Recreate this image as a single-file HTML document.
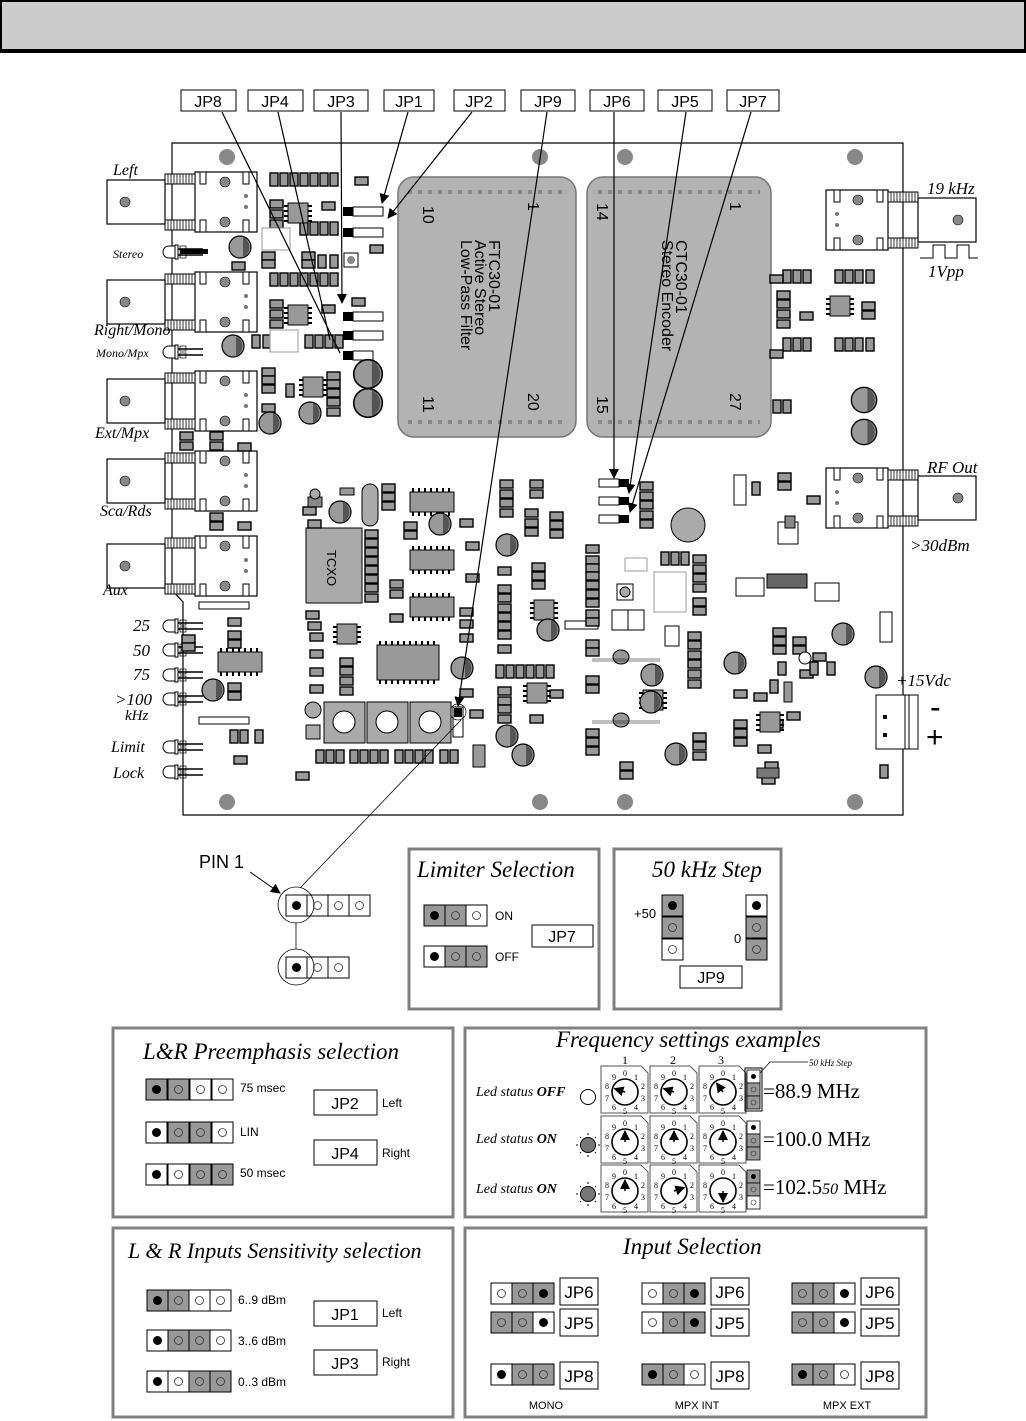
<!DOCTYPE html>
<html><head><meta charset="utf-8"><style>
html,body{margin:0;padding:0;background:#fff}
svg{display:block}
.s{font-family:"Liberation Sans",sans-serif}
.i{font-family:"Liberation Serif",serif;font-style:italic}
.r{font-family:"Liberation Serif",serif}
</style></head><body>
<svg width="1026" height="1421" viewBox="0 0 1026 1421" xmlns="http://www.w3.org/2000/svg">
<defs>
<g id="gO"><rect width="21" height="21" fill="#999" stroke="#000" stroke-width="1"/><circle cx="10.5" cy="10.5" r="4" fill="none" stroke="#333" stroke-width="0.8"/></g>
<g id="wO"><rect width="21" height="21" fill="#fff" stroke="#000" stroke-width="1"/><circle cx="10.5" cy="10.5" r="4" fill="none" stroke="#333" stroke-width="0.8"/></g>
<g id="gF"><rect width="21" height="21" fill="#999" stroke="#000" stroke-width="1"/><circle cx="10.5" cy="10.5" r="4.5" fill="#000"/></g>
<g id="wF"><rect width="21" height="21" fill="#fff" stroke="#000" stroke-width="1"/><circle cx="10.5" cy="10.5" r="4.5" fill="#000"/></g>
<g id="sgO"><rect width="13" height="13" fill="#999" stroke="#000" stroke-width="0.8"/><circle cx="6.5" cy="6.5" r="2.5" fill="none" stroke="#333" stroke-width="0.6"/></g>
<g id="swO"><rect width="13" height="13" fill="#fff" stroke="#000" stroke-width="0.8"/><circle cx="6.5" cy="6.5" r="2.5" fill="none" stroke="#333" stroke-width="0.6"/></g>
<g id="swF"><rect width="13" height="13" fill="#fff" stroke="#000" stroke-width="0.8"/><circle cx="6.5" cy="6.5" r="2.5" fill="#000"/></g>
<g id="sgF"><rect width="13" height="13" fill="#999" stroke="#000" stroke-width="0.8"/><circle cx="6.5" cy="6.5" r="2.5" fill="#000"/></g>
<marker id="ar" markerWidth="10" markerHeight="10" refX="9" refY="5" orient="auto" markerUnits="userSpaceOnUse"><path d="M0,0 L10,5 L0,10 z" fill="#000"/></marker>
<g id="res"><rect width="13" height="8" fill="#999" stroke="#000" stroke-width="1.4"/></g>
<g id="resv"><rect width="8" height="13" fill="#999" stroke="#000" stroke-width="1.4"/></g>
<g id="cap"><circle r="11" fill="#999" stroke="#000" stroke-width="1.2"/><path d="M3,-10 A11,11 0 0 1 3,10 Z" fill="#555"/></g>
<g id="ic8"><rect width="20" height="20" fill="#999" stroke="#000"/><g stroke="#000" stroke-width="2"><path d="M-4,3h4M-4,8h4M-4,13h4M-4,18h4M20,3h4M20,8h4M20,13h4M20,18h4"/></g></g>
<g id="ic14h"><rect width="44" height="20" fill="#999" stroke="#000"/><g stroke="#000" stroke-width="2"><path d="M3,-4v4M9,-4v4M15,-4v4M21,-4v4M27,-4v4M33,-4v4M39,-4v4M3,20v4M9,20v4M15,20v4M21,20v4M27,20v4M33,20v4M39,20v4"/></g></g>
<g id="bnc"><rect x="0" y="-30" width="62" height="60" fill="#fff" stroke="#000" stroke-width="1.2"/><rect x="5" y="-30" width="6" height="12" fill="#fff" stroke="#000"/><rect x="48" y="-30" width="6" height="12" fill="#fff" stroke="#000"/><rect x="5" y="18" width="6" height="12" fill="#fff" stroke="#000"/><rect x="48" y="18" width="6" height="12" fill="#fff" stroke="#000"/><circle cx="30" cy="-20" r="5" fill="#888" stroke="#000" stroke-width=".6"/><circle cx="30" cy="20" r="5" fill="#888" stroke="#000" stroke-width=".6"/><circle cx="51" cy="-6" r="2" fill="#777"/><circle cx="51" cy="5" r="2" fill="#777"/>
<rect x="-30" y="-28" width="30" height="10" fill="#fff" stroke="#000"/><rect x="-30" y="18" width="30" height="10" fill="#fff" stroke="#000"/><path d="M-27,-28v10M-24,-28v10M-21,-28v10M-18,-28v10M-15,-28v10M-12,-28v10M-9,-28v10M-6,-28v10M-3,-28v10M-27,18v10M-24,18v10M-21,18v10M-18,18v10M-15,18v10M-12,18v10M-9,18v10M-6,18v10M-3,18v10" stroke="#000" stroke-width=".8"/>
<rect x="-88" y="-22" width="58" height="44" fill="#fff" stroke="#000" stroke-width="1.2"/><circle cx="-70" cy="0" r="5" fill="#888" stroke="#000" stroke-width=".6"/></g>
<g id="led"><path d="M10,-6 H4 A6,6 0 0 0 4,6 H10 Z" fill="#fff" stroke="#000"/><rect x="10" y="-7" width="3" height="14" fill="#fff" stroke="#000"/><path d="M13,-3H38M13,3H38" stroke="#000" stroke-width="1.5"/><rect x="15" y="-6" width="6" height="5" fill="none" stroke="#000" stroke-width=".7"/><rect x="15" y="1" width="6" height="5" fill="none" stroke="#000" stroke-width=".7"/></g>
<g id="dial"><path d="M0,0H40L47,7V47H0Z" fill="#fff" stroke="#555" stroke-width="1"/><circle cx="24" cy="26" r="13" fill="#fff" stroke="#000" stroke-width="1.6"/>
<text class="r" font-size="8" text-anchor="middle"><tspan x="24" y="10">0</tspan><tspan x="35" y="14">1</tspan><tspan x="42" y="23">2</tspan><tspan x="42" y="35">3</tspan><tspan x="35" y="44">4</tspan><tspan x="24" y="48">5</tspan><tspan x="13" y="44">6</tspan><tspan x="6" y="35">7</tspan><tspan x="6" y="23">8</tspan><tspan x="13" y="14">9</tspan></text></g>
</defs>

<!-- header -->
<rect x="1" y="1" width="1024" height="49" fill="#cccccc" stroke="#000" stroke-width="2"/>
<rect x="0" y="49" width="1026" height="4" fill="#000"/>

<!-- board outline -->
<path d="M172,143 H903 V815 H183 V602 L172,590 Z" fill="#fff" stroke="#000" stroke-width="1.2"/>
<g fill="#888"><circle cx="227" cy="157" r="8"/><circle cx="540" cy="157" r="8"/><circle cx="625" cy="157" r="8"/><circle cx="855" cy="157" r="8"/><circle cx="227" cy="802" r="8"/><circle cx="540" cy="802" r="8"/><circle cx="625" cy="802" r="8"/><circle cx="855" cy="802" r="8"/></g>

<!-- modules -->
<rect x="398" y="177" width="178" height="260" rx="16" fill="#b3b3b3" stroke="#777" stroke-width="1.5"/>
<rect x="587" y="177" width="184" height="260" rx="16" fill="#b3b3b3" stroke="#777" stroke-width="1.5"/>
<path d="M408,192H565M408,422H565M598,192H760M598,422H760" stroke="#888" stroke-width="4" stroke-dasharray="4,6"/>
<g class="s" font-size="16">
<text transform="translate(423,206) rotate(90)">10</text>
<text transform="translate(528,202) rotate(90)">1</text>
<text transform="translate(423,396) rotate(90)">11</text>
<text transform="translate(528,393) rotate(90)">20</text>
<text transform="translate(597,203) rotate(90)">14</text>
<text transform="translate(730,202) rotate(90)">1</text>
<text transform="translate(597,396) rotate(90)">15</text>
<text transform="translate(730,393) rotate(90)">27</text>
<text transform="translate(489,240) rotate(90)">FTC30-01</text>
<text transform="translate(475,240) rotate(90)">Active Stereo</text>
<text transform="translate(461,240) rotate(90)">Low-Pass Filter</text>
<text transform="translate(676,240) rotate(90)">CTC30-01</text>
<text transform="translate(662,240) rotate(90)">Stereo Encoder</text>
</g>

<!-- left connectors -->
<use href="#bnc" x="195" y="202"/>
<use href="#bnc" x="195" y="302"/>
<use href="#bnc" x="195" y="401"/>
<use href="#bnc" x="195" y="481"/>
<use href="#bnc" x="195" y="566"/>
<g class="i" font-size="16">
<text x="113" y="175">Left</text>
<text x="113" y="258" font-size="12">Stereo</text>
<text x="94" y="335">Right/Mono</text>
<text x="96" y="357" font-size="12">Mono/Mpx</text>
<text x="95" y="438">Ext/Mpx</text>
<text x="100" y="516">Sca/Rds</text>
<text x="103" y="595">Aux</text>
<text x="133" y="631" font-size="17">25</text>
<text x="133" y="656" font-size="17">50</text>
<text x="133" y="680" font-size="17">75</text>
<text x="115" y="705" font-size="17">&gt;100</text>
<text x="125" y="720" font-size="15">kHz</text>
<text x="111" y="752" font-size="16">Limit</text>
<text x="113" y="778" font-size="16">Lock</text>
</g>
<use href="#led" x="165" y="252"/>
<use href="#led" x="165" y="352"/>
<use href="#led" x="165" y="626"/>
<use href="#led" x="165" y="650"/>
<use href="#led" x="165" y="675"/>
<use href="#led" x="165" y="699"/>
<use href="#led" x="165" y="747"/>
<use href="#led" x="165" y="772"/>
<rect x="180" y="249" width="28" height="5" fill="#000"/>

<!-- right connectors -->
<use href="#bnc" transform="translate(888,220) scale(-1,1)"/>
<use href="#bnc" transform="translate(888,498) scale(-1,1)"/>
<g class="i" font-size="17">
<text x="927" y="194">19 kHz</text>
<text x="928" y="277">1Vpp</text>
<text x="927" y="473">RF Out</text>
<text x="910" y="551">&gt;30dBm</text>
<text x="896" y="686">+15Vdc</text>
</g>
<path d="M920,258H933V245H945V258H957V245H969V258H978" fill="none" stroke="#000" stroke-width="1"/>
<rect x="876" y="695" width="42" height="54" fill="#fff" stroke="#000"/><rect x="905" y="695" width="4" height="54" fill="#fff" stroke="#000"/>
<rect x="883" y="715" width="4" height="4"/><rect x="883" y="733" width="4" height="4"/>
<text class="s" x="930" y="718" font-size="32">-</text>
<text class="s" x="926" y="747" font-size="30">+</text>

<!-- jumper headers on PCB -->
<g>
<rect x="343" y="207" width="10" height="9" fill="#000"/><rect x="353" y="207" width="30" height="9" fill="#fff" stroke="#000"/>
<rect x="343" y="228" width="10" height="9" fill="#000"/><rect x="353" y="228" width="30" height="9" fill="#fff" stroke="#000"/>
<rect x="343" y="312" width="10" height="9" fill="#000"/><rect x="353" y="312" width="30" height="9" fill="#fff" stroke="#000"/>
<rect x="343" y="331" width="10" height="9" fill="#000"/><rect x="353" y="331" width="30" height="9" fill="#fff" stroke="#000"/>
<rect x="343" y="351" width="10" height="9" fill="#000"/><rect x="353" y="351" width="20" height="9" fill="#fff" stroke="#000"/>
<rect x="599" y="479" width="20" height="8" fill="#fff" stroke="#000"/><rect x="619" y="479" width="10" height="8" fill="#000"/>
<rect x="599" y="497" width="20" height="8" fill="#fff" stroke="#000"/><rect x="619" y="497" width="10" height="8" fill="#000"/>
<rect x="599" y="515" width="20" height="8" fill="#fff" stroke="#000"/><rect x="619" y="515" width="10" height="8" fill="#000"/>
<rect x="453" y="707" width="10" height="30" fill="#fff" stroke="#000"/><rect x="454" y="708" width="8" height="9" fill="#000"/>
<circle cx="458" cy="712" r="8" fill="none" stroke="#000" stroke-width=".7"/>
</g>
<g fill="#fff" stroke="#000" stroke-width="1">
<rect x="199" y="602" width="50" height="7"/><rect x="199" y="717" width="50" height="7"/>
<rect x="565" y="621" width="33" height="8"/>
</g>

<!-- components -->
<g>
<use href="#resv" x="270" y="173"/><use href="#resv" x="280" y="173"/><use href="#resv" x="290" y="173"/><use href="#resv" x="300" y="173"/><use href="#resv" x="310" y="173"/><use href="#resv" x="320" y="173"/><use href="#resv" x="330" y="173"/>
<use href="#resv" x="270" y="273"/><use href="#resv" x="280" y="273"/><use href="#resv" x="290" y="273"/><use href="#resv" x="300" y="273"/><use href="#resv" x="310" y="273"/><use href="#resv" x="320" y="273"/><use href="#resv" x="330" y="273"/>
<use href="#resv" x="300" y="222"/><use href="#resv" x="310" y="222"/><use href="#resv" x="320" y="222"/><use href="#resv" x="330" y="222"/>
<use href="#resv" x="318" y="255"/><use href="#resv" x="330" y="255"/>
<use href="#resv" x="252" y="335"/><use href="#resv" x="263" y="335"/><use href="#resv" x="305" y="335"/><use href="#resv" x="315" y="335"/><use href="#resv" x="325" y="335"/><use href="#resv" x="335" y="335"/>
<use href="#res" x="270" y="200"/><use href="#res" x="270" y="210"/><use href="#res" x="270" y="220"/><use href="#res" x="322" y="202"/>
<use href="#res" x="270" y="300"/><use href="#res" x="270" y="310"/><use href="#res" x="270" y="320"/><use href="#res" x="322" y="305"/>
<use href="#res" x="262" y="252"/><use href="#res" x="262" y="260"/><use href="#res" x="302" y="252"/><use href="#res" x="302" y="260"/><use href="#res" x="232" y="262"/>
<use href="#res" x="355" y="177"/><use href="#res" x="370" y="245"/><use href="#res" x="352" y="298"/>
<use href="#res" x="262" y="368"/><use href="#res" x="262" y="376"/><use href="#res" x="262" y="385"/><use href="#res" x="262" y="404"/>
<use href="#res" x="327" y="372"/><use href="#res" x="327" y="380"/><use href="#res" x="327" y="389"/><use href="#res" x="327" y="398"/><use href="#res" x="327" y="408"/>
<use href="#resv" x="286" y="384"/>
<use href="#res" x="180" y="432"/><use href="#res" x="180" y="442"/><use href="#res" x="210" y="432"/><use href="#res" x="210" y="442"/><use href="#res" x="238" y="443"/>
<use href="#res" x="210" y="513"/><use href="#res" x="210" y="522"/><use href="#res" x="238" y="522"/>
<use href="#ic8" x="288" y="203"/><use href="#ic8" x="288" y="305"/><use href="#ic8" x="303" y="377"/>
<rect x="262" y="228" width="28" height="22" fill="#fff" stroke="#999"/><rect x="270" y="330" width="28" height="22" fill="#fff" stroke="#999"/>
<use href="#cap" x="240" y="247"/><use href="#cap" x="233" y="346"/><use href="#cap" x="310" y="413"/><use href="#cap" x="270" y="423"/>
<use href="#cap" transform="translate(368,374) scale(1.3)"/><use href="#cap" transform="translate(368,403) scale(1.3)"/>
<rect x="344" y="253" width="14" height="14" fill="#fff" stroke="#000"/><circle cx="351" cy="260" r="4" fill="#888"/>

<rect x="308" y="497" width="14" height="10" fill="#888" stroke="#000"/><circle cx="315" cy="494" r="5" fill="#aaa" stroke="#000"/>
<rect x="340" y="488" width="14" height="7" fill="#999" stroke="#000"/>
<use href="#cap" x="340" y="512"/>
<rect x="362" y="484" width="16" height="42" rx="8" fill="#aaa" stroke="#000"/>
<rect x="306" y="528" width="56" height="75" fill="#aaa" stroke="#000"/>
<text class="s" transform="translate(327,550) rotate(90)" font-size="13">TCXO</text>
<g><use href="#res" x="303" y="507"/><use href="#res" x="308" y="520"/><use href="#res" x="306" y="611"/><use href="#res" x="308" y="622"/><use href="#res" x="365" y="530"/><use href="#res" x="365" y="539"/><use href="#res" x="365" y="548"/><use href="#res" x="365" y="557"/><use href="#res" x="365" y="566"/><use href="#res" x="365" y="575"/><use href="#res" x="365" y="584"/><use href="#res" x="365" y="594"/>
<use href="#res" x="382" y="484"/><use href="#res" x="382" y="493"/><use href="#res" x="382" y="502"/><use href="#res" x="404" y="522"/><use href="#res" x="404" y="531"/>
<use href="#res" x="390" y="580"/><use href="#res" x="390" y="590"/><use href="#res" x="390" y="614"/>
<use href="#res" x="310" y="633"/><use href="#res" x="310" y="650"/><use href="#res" x="310" y="668"/><use href="#res" x="310" y="685"/>
<use href="#res" x="340" y="658"/><use href="#res" x="340" y="667"/><use href="#res" x="340" y="677"/><use href="#res" x="340" y="687"/>
<use href="#res" x="228" y="618"/><use href="#res" x="228" y="631"/><use href="#res" x="228" y="640"/><use href="#res" x="228" y="683"/><use href="#res" x="228" y="692"/>
<use href="#res" x="182" y="635"/><use href="#res" x="182" y="643"/><use href="#res" x="234" y="756"/><use href="#res" x="296" y="772"/>
<use href="#resv" x="230" y="730"/><use href="#resv" x="240" y="730"/><use href="#resv" x="255" y="730"/>
<use href="#res" x="460" y="608"/><use href="#res" x="460" y="620"/><use href="#res" x="460" y="634"/><use href="#res" x="460" y="689"/><use href="#res" x="470" y="710"/>
<use href="#res" x="466" y="542"/><use href="#res" x="466" y="574"/><use href="#res" x="460" y="519"/>
</g>
<use href="#ic14h" x="410" y="492"/><use href="#ic14h" x="410" y="550"/><use href="#ic14h" x="410" y="597"/><use href="#ic14h" x="218" y="652"/>
<use href="#ic8" x="337" y="624"/>
<rect x="377" y="645" width="62" height="35" fill="#999" stroke="#000"/><path d="M380,641v4M386,641v4M392,641v4M398,641v4M404,641v4M410,641v4M416,641v4M422,641v4M428,641v4M434,641v4M380,680v4M386,680v4M392,680v4M398,680v4M404,680v4M410,680v4M416,680v4M422,680v4M428,680v4M434,680v4" stroke="#000" stroke-width="2"/>
<use href="#cap" x="462" y="668"/><use href="#cap" x="213" y="690"/><use href="#cap" x="440" y="524"/>
<g fill="#aaa" stroke="#000"><rect x="324" y="702" width="41" height="41"/><rect x="367" y="702" width="41" height="41"/><rect x="410" y="702" width="41" height="41"/></g>
<g fill="#fff" stroke="#000"><circle cx="344" cy="722" r="11"/><circle cx="387" cy="722" r="11"/><circle cx="430" cy="722" r="11"/></g>
<circle cx="313" cy="710" r="8" fill="#aaa" stroke="#000"/><rect x="306" y="725" width="14" height="14" fill="#aaa" stroke="#000"/>
<g><use href="#resv" x="316" y="750"/><use href="#resv" x="326" y="750"/><use href="#resv" x="336" y="750"/><use href="#resv" x="350" y="750"/><use href="#resv" x="360" y="750"/><use href="#resv" x="370" y="750"/><use href="#resv" x="380" y="750"/><use href="#resv" x="395" y="750"/><use href="#resv" x="405" y="750"/><use href="#resv" x="415" y="750"/><use href="#resv" x="425" y="750"/><use href="#resv" x="440" y="750"/><use href="#resv" x="450" y="750"/></g>
<rect x="473" y="745" width="12" height="22" fill="#999" stroke="#000"/>

<g>
<use href="#res" x="500" y="480"/><use href="#res" x="500" y="490"/><use href="#res" x="500" y="499"/><use href="#res" x="500" y="509"/><use href="#res" x="530" y="480"/><use href="#res" x="530" y="490"/><use href="#res" x="525" y="509"/><use href="#res" x="525" y="519"/><use href="#res" x="525" y="528"/><use href="#res" x="550" y="512"/><use href="#res" x="550" y="521"/><use href="#res" x="550" y="530"/>
<use href="#res" x="498" y="567"/><use href="#res" x="532" y="563"/><use href="#res" x="532" y="572"/><use href="#res" x="532" y="581"/><use href="#res" x="498" y="585"/><use href="#res" x="498" y="594"/><use href="#res" x="498" y="604"/><use href="#res" x="498" y="613"/><use href="#res" x="498" y="622"/><use href="#res" x="498" y="631"/><use href="#res" x="498" y="645"/>
<use href="#resv" x="496" y="665"/><use href="#resv" x="506" y="665"/><use href="#resv" x="516" y="665"/><use href="#resv" x="526" y="665"/><use href="#resv" x="536" y="665"/><use href="#resv" x="546" y="665"/>
<use href="#res" x="498" y="687"/><use href="#res" x="498" y="697"/><use href="#res" x="498" y="705"/><use href="#res" x="498" y="715"/>
<use href="#res" x="530" y="715"/><use href="#res" x="550" y="690"/>
<use href="#res" x="586" y="545"/><use href="#res" x="586" y="556"/><use href="#res" x="586" y="564"/><use href="#res" x="586" y="572"/><use href="#res" x="586" y="581"/><use href="#res" x="586" y="590"/><use href="#res" x="586" y="599"/><use href="#res" x="586" y="610"/><use href="#res" x="586" y="618"/><use href="#res" x="586" y="640"/><use href="#res" x="586" y="648"/>
<use href="#res" x="586" y="676"/><use href="#res" x="586" y="685"/><use href="#res" x="586" y="729"/><use href="#res" x="586" y="738"/><use href="#res" x="586" y="747"/>
<use href="#res" x="620" y="762"/><use href="#res" x="620" y="771"/>
<use href="#res" x="640" y="482"/><use href="#res" x="640" y="492"/><use href="#res" x="640" y="501"/><use href="#res" x="640" y="511"/><use href="#res" x="640" y="520"/>
<use href="#res" x="693" y="555"/><use href="#res" x="693" y="565"/><use href="#res" x="693" y="574"/><use href="#res" x="693" y="584"/><use href="#res" x="693" y="598"/><use href="#res" x="693" y="607"/>
<use href="#res" x="688" y="632"/><use href="#res" x="688" y="641"/><use href="#res" x="688" y="651"/><use href="#res" x="688" y="660"/><use href="#res" x="688" y="670"/><use href="#res" x="688" y="680"/>
<use href="#res" x="693" y="733"/><use href="#res" x="693" y="742"/><use href="#res" x="693" y="752"/><use href="#res" x="734" y="690"/><use href="#res" x="734" y="720"/><use href="#res" x="734" y="729"/><use href="#res" x="734" y="738"/><use href="#res" x="770" y="720"/><use href="#res" x="765" y="762"/>
<use href="#resv" x="661" y="552"/><use href="#resv" x="671" y="552"/><use href="#resv" x="681" y="552"/>
</g>
<use href="#ic8" x="534" y="600"/><use href="#ic8" x="527" y="683"/><use href="#ic8" x="643" y="690"/>
<use href="#cap" x="507" y="545"/><use href="#cap" x="548" y="630"/><use href="#cap" x="652" y="675"/><use href="#cap" x="651" y="702"/><use href="#cap" x="676" y="754"/><use href="#cap" x="507" y="736"/><use href="#cap" x="523" y="755"/>
<circle cx="688" cy="525" r="17" fill="#aaa" stroke="#000"/>
<ellipse cx="621" cy="657" rx="8" ry="7" fill="#999" stroke="#000"/><ellipse cx="621" cy="720" rx="8" ry="7" fill="#999" stroke="#000"/>
<path d="M592,660H660M592,722H660" stroke="#000" stroke-width="4" stroke-opacity=".25"/>
<rect x="625" y="558" width="22" height="13" fill="#fff" stroke="#999"/><rect x="617" y="584" width="16" height="16" fill="#fff" stroke="#000"/><circle cx="625" cy="592" r="5" fill="#aaa" stroke="#000"/>
<rect x="654" y="572" width="32" height="40" fill="#fff" stroke="#999"/>
<rect x="612" y="610" width="16" height="20" fill="#fff" stroke="#000"/><rect x="628" y="610" width="16" height="20" fill="#fff" stroke="#000"/>
<rect x="665" y="626" width="14" height="20" fill="#fff" stroke="#000"/>

<g>
<use href="#resv" x="783" y="270"/><use href="#resv" x="793" y="270"/><use href="#resv" x="803" y="270"/><use href="#resv" x="835" y="270"/><use href="#resv" x="845" y="270"/><use href="#resv" x="855" y="270"/><use href="#resv" x="866" y="270"/>
<use href="#resv" x="783" y="338"/><use href="#resv" x="793" y="338"/><use href="#resv" x="803" y="338"/><use href="#resv" x="835" y="338"/><use href="#resv" x="845" y="338"/><use href="#resv" x="855" y="338"/><use href="#resv" x="866" y="338"/>
<use href="#res" x="770" y="275"/><use href="#res" x="770" y="350"/><use href="#res" x="777" y="291"/><use href="#res" x="777" y="300"/><use href="#res" x="777" y="310"/><use href="#res" x="777" y="320"/><use href="#res" x="800" y="312"/><use href="#res" x="862" y="302"/><use href="#res" x="862" y="311"/>
<use href="#resv" x="773" y="400"/><use href="#resv" x="783" y="400"/>
<use href="#res" x="778" y="473"/><use href="#res" x="778" y="482"/><use href="#res" x="807" y="496"/><use href="#resv" x="752" y="482"/>
<use href="#res" x="773" y="628"/><use href="#res" x="773" y="637"/><use href="#res" x="773" y="646"/><use href="#res" x="793" y="637"/><use href="#res" x="793" y="646"/><use href="#res" x="813" y="653"/><use href="#res" x="800" y="670"/>
<use href="#resv" x="827" y="662"/><use href="#resv" x="810" y="662"/><use href="#resv" x="778" y="662"/><use href="#resv" x="770" y="680"/>
<use href="#res" x="754" y="693"/><use href="#res" x="758" y="745"/><use href="#res" x="787" y="712"/>
<use href="#res" x="762" y="776"/><use href="#resv" x="880" y="765"/>
</g>
<use href="#ic8" x="830" y="296"/><use href="#ic8" x="760" y="712"/>
<use href="#cap" transform="translate(864,400) scale(1.15)"/><use href="#cap" transform="translate(864,432) scale(1.15)"/>
<use href="#cap" x="876" y="677"/><use href="#cap" x="843" y="634"/><use href="#cap" x="735" y="663"/>
<rect x="734" y="475" width="12" height="30" fill="#fff" stroke="#000"/><rect x="880" y="612" width="12" height="30" fill="#fff" stroke="#000"/>
<rect x="778" y="522" width="20" height="22" fill="#fff" stroke="#000"/><rect x="785" y="516" width="10" height="12" fill="#888" stroke="#000"/>
<rect x="736" y="578" width="28" height="18" fill="#fff" stroke="#000"/><rect x="815" y="583" width="24" height="18" fill="#fff" stroke="#000"/>
<rect x="767" y="574" width="40" height="14" fill="#666" stroke="#000"/>
<rect x="784" y="682" width="8" height="20" fill="#999" stroke="#000"/>
<rect x="757" y="768" width="22" height="10" fill="#777" stroke="#000"/>
<circle cx="805" cy="658" r="6" fill="#fff" stroke="#000"/>

<!-- pointer lines -->
<g stroke="#000" stroke-width="1.2" fill="none">
<path d="M222,112L340,353" /><path d="M278,112L330,340"/>
<path d="M341,112L342,303" marker-end="url(#ar)"/>
<path d="M408,112L382,203" marker-end="url(#ar)"/>
<path d="M472,112L388,218" marker-end="url(#ar)"/>
<path d="M547,112L458,706" marker-end="url(#ar)"/>
<path d="M614,112L614,478" marker-end="url(#ar)"/>
<path d="M686,112L629,493" marker-end="url(#ar)"/>
<path d="M751,112L630,512" marker-end="url(#ar)"/>
<path d="M461,720L300,888" stroke-width=".8"/>
</g>
<g stroke="#000" stroke-width="1" fill="#fff">
<rect x="181" y="90" width="55" height="21"/><rect x="248" y="90" width="55" height="21"/><rect x="314" y="90" width="54" height="21"/><rect x="384" y="90" width="50" height="21"/><rect x="454" y="90" width="51" height="21"/><rect x="521" y="90" width="54" height="21"/><rect x="590" y="90" width="54" height="21"/><rect x="658" y="90" width="54" height="21"/><rect x="727" y="90" width="52" height="21"/>
</g>
<g class="s" font-size="16" text-anchor="middle">
<text x="208" y="107">JP8</text><text x="275" y="107">JP4</text><text x="341" y="107">JP3</text><text x="409" y="107">JP1</text><text x="479" y="107">JP2</text><text x="548" y="107">JP9</text><text x="617" y="107">JP6</text><text x="685" y="107">JP5</text><text x="753" y="107">JP7</text>
</g>

<!-- PIN 1 -->
<text class="s" x="199" y="868" font-size="18">PIN 1</text>
<path d="M250,872L280,893" stroke="#000" fill="none" stroke-width="1" marker-end="url(#ar)"/>
<use href="#wF" x="286" y="895"/>
<use href="#wO" x="307" y="895"/><use href="#wO" x="328" y="895"/><use href="#wO" x="349" y="895"/>
<use href="#wF" x="286" y="957"/><use href="#wO" x="307" y="957"/><use href="#wO" x="328" y="957"/>
<circle cx="296" cy="905" r="18" fill="none" stroke="#000" stroke-width=".8"/>
<circle cx="296" cy="967" r="18" fill="none" stroke="#000" stroke-width=".8"/>
<path d="M296,923V949" stroke="#000" stroke-width=".8"/>

<!-- panels -->
<g fill="#fff" stroke="#808080" stroke-width="3">
<rect x="409" y="849" width="190" height="160"/>
<rect x="614" y="849" width="167" height="160"/>
<rect x="113" y="1028" width="340" height="189"/>
<rect x="465" y="1028" width="461" height="189"/>
<rect x="113" y="1228" width="340" height="189"/>
<rect x="465" y="1228" width="461" height="189"/>
</g>
<g class="i" font-size="23">
<text x="417" y="877">Limiter Selection</text>
<text x="652" y="877">50 kHz Step</text>
<text x="143" y="1059">L&amp;R  Preemphasis selection</text>
<text x="556" y="1047">Frequency settings examples</text>
<text x="128" y="1258" font-size="22">L &amp; R  Inputs Sensitivity selection</text>
<text x="623" y="1254">Input Selection</text>
</g>

<use href="#gF" x="424" y="905"/><use href="#gO" x="445" y="905"/><use href="#wO" x="466" y="905"/>
<use href="#wF" x="424" y="946"/><use href="#gO" x="445" y="946"/><use href="#gO" x="466" y="946"/>
<g class="s" font-size="12"><text x="495" y="920">ON</text><text x="495" y="961">OFF</text></g>
<rect x="532" y="925" width="61" height="22" fill="#fff" stroke="#000"/><text class="s" x="562" y="942" font-size="16" text-anchor="middle">JP7</text>

<use href="#gF" x="662" y="895"/><use href="#gO" x="662" y="917"/><use href="#wO" x="662" y="939"/>
<use href="#wF" x="746" y="895"/><use href="#gO" x="746" y="917"/><use href="#gO" x="746" y="939"/>
<text class="s" x="634" y="918" font-size="13">+50</text><text class="s" x="734" y="943" font-size="13">0</text>
<rect x="680" y="966" width="62" height="22" fill="#fff" stroke="#000"/><text class="s" x="711" y="983" font-size="16" text-anchor="middle">JP9</text>

<use href="#gF" x="146" y="1079"/><use href="#gO" x="168" y="1079"/><use href="#wO" x="190" y="1079"/><use href="#wO" x="212" y="1079"/>
<use href="#wF" x="146" y="1122"/><use href="#gO" x="168" y="1122"/><use href="#gO" x="190" y="1122"/><use href="#wO" x="212" y="1122"/>
<use href="#wF" x="146" y="1164"/><use href="#wO" x="168" y="1164"/><use href="#gO" x="190" y="1164"/><use href="#gO" x="212" y="1164"/>
<g class="s" font-size="12"><text x="240" y="1092">75 msec</text><text x="240" y="1136">LIN</text><text x="240" y="1177">50 msec</text><text x="382" y="1107">Left</text><text x="382" y="1157">Right</text></g>
<rect x="314" y="1090" width="63" height="25" fill="#fff" stroke="#000"/><text class="s" x="345" y="1109" font-size="16" text-anchor="middle">JP2</text>
<rect x="314" y="1140" width="63" height="25" fill="#fff" stroke="#000"/><text class="s" x="345" y="1159" font-size="16" text-anchor="middle">JP4</text>

<use href="#gF" x="147" y="1290"/><use href="#gO" x="168" y="1290"/><use href="#wO" x="189" y="1290"/><use href="#wO" x="210" y="1290"/>
<use href="#wF" x="147" y="1330"/><use href="#gO" x="168" y="1330"/><use href="#gO" x="189" y="1330"/><use href="#wO" x="210" y="1330"/>
<use href="#wF" x="147" y="1371"/><use href="#wO" x="168" y="1371"/><use href="#gO" x="189" y="1371"/><use href="#gO" x="210" y="1371"/>
<g class="s" font-size="12"><text x="238" y="1304">6..9 dBm</text><text x="238" y="1345">3..6 dBm</text><text x="238" y="1386">0..3 dBm</text><text x="382" y="1317">Left</text><text x="382" y="1366">Right</text></g>
<rect x="314" y="1301" width="63" height="25" fill="#fff" stroke="#000"/><text class="s" x="345" y="1320" font-size="16" text-anchor="middle">JP1</text>
<rect x="314" y="1350" width="63" height="25" fill="#fff" stroke="#000"/><text class="s" x="345" y="1369" font-size="16" text-anchor="middle">JP3</text>

<use href="#wO" x="491" y="1283"/><use href="#gO" x="512" y="1283"/><use href="#gF" x="533" y="1283"/>
<use href="#gO" x="491" y="1312"/><use href="#gO" x="512" y="1312"/><use href="#wF" x="533" y="1312"/>
<use href="#wF" x="491" y="1364"/><use href="#gO" x="512" y="1364"/><use href="#gO" x="533" y="1364"/>
<use href="#wO" x="642" y="1283"/><use href="#gO" x="663" y="1283"/><use href="#gF" x="684" y="1283"/>
<use href="#wO" x="642" y="1312"/><use href="#gO" x="663" y="1312"/><use href="#gF" x="684" y="1312"/>
<use href="#gF" x="642" y="1364"/><use href="#gO" x="663" y="1364"/><use href="#wO" x="684" y="1364"/>
<use href="#gO" x="792" y="1283"/><use href="#gO" x="813" y="1283"/><use href="#wF" x="834" y="1283"/>
<use href="#gO" x="792" y="1312"/><use href="#gO" x="813" y="1312"/><use href="#wF" x="834" y="1312"/>
<use href="#gF" x="792" y="1364"/><use href="#gO" x="813" y="1364"/><use href="#wO" x="834" y="1364"/>
<g fill="#fff" stroke="#000">
<rect x="560" y="1278" width="38" height="27"/><rect x="560" y="1309" width="38" height="27"/><rect x="560" y="1362" width="38" height="27"/>
<rect x="711" y="1278" width="38" height="27"/><rect x="711" y="1309" width="38" height="27"/><rect x="711" y="1362" width="38" height="27"/>
<rect x="861" y="1278" width="38" height="27"/><rect x="861" y="1309" width="38" height="27"/><rect x="861" y="1362" width="38" height="27"/>
</g>
<g class="s" font-size="17" text-anchor="middle">
<text x="579" y="1298">JP6</text><text x="579" y="1329">JP5</text><text x="579" y="1382">JP8</text>
<text x="730" y="1298">JP6</text><text x="730" y="1329">JP5</text><text x="730" y="1382">JP8</text>
<text x="880" y="1298">JP6</text><text x="880" y="1329">JP5</text><text x="880" y="1382">JP8</text>
</g>
<g class="s" font-size="11" text-anchor="middle"><text x="546" y="1409">MONO</text><text x="697" y="1409">MPX INT</text><text x="847" y="1409">MPX EXT</text></g>

<g class="r" font-size="12" text-anchor="middle"><text x="625" y="1064">1</text><text x="673" y="1064">2</text><text x="721" y="1064">3</text></g>
<text class="i" x="809" y="1066" font-size="9">50 kHz Step</text>
<path d="M760,1073L770,1062H808" stroke="#000" fill="none" stroke-width=".8"/>
<g class="i" font-size="14">
<text x="476" y="1096">Led status <tspan font-weight="bold">OFF</tspan></text>
<text x="476" y="1143">Led status <tspan font-weight="bold">ON</tspan></text>
<text x="476" y="1193">Led status <tspan font-weight="bold">ON</tspan></text>
</g>
<circle cx="588" cy="1097" r="7.5" fill="#fff" stroke="#000"/>
<circle cx="588" cy="1145" r="7.5" fill="#777" stroke="#000"/>
<circle cx="588" cy="1194" r="7.5" fill="#777" stroke="#000"/>
<g stroke="#000" stroke-width="1"><path d="M588,1133v2M588,1155v2M576,1145h2M598,1145h2M580,1137l1,1M595,1152l1,1M580,1153l1,-1M595,1138l1,-1"/><path d="M588,1182v2M588,1204v2M576,1194h2M598,1194h2M580,1186l1,1M595,1201l1,1M580,1202l1,-1M595,1187l1,-1"/></g>
<use href="#dial" x="601" y="1066"/><use href="#dial" x="650" y="1066"/><use href="#dial" x="699" y="1066"/>
<use href="#dial" x="601" y="1116"/><use href="#dial" x="650" y="1116"/><use href="#dial" x="699" y="1116"/>
<use href="#dial" x="601" y="1165"/><use href="#dial" x="650" y="1165"/><use href="#dial" x="699" y="1165"/>
<g stroke="#000" stroke-width="1.5" marker-end="url(#ar)">
<path d="M625,1092l-10.5,-3.4"/><path d="M674,1092l-10.5,-3.4"/><path d="M723,1092l-6.5,-8.9"/>
<path d="M625,1142v-11"/><path d="M674,1142v-11"/><path d="M723,1142v-11"/>
<path d="M625,1191v-11"/><path d="M674,1191l10.5,-3.4"/><path d="M723,1191v11"/>
</g>
<rect x="745" y="1068" width="17" height="43" fill="none" stroke="#000" stroke-width="1"/>
<use href="#swF" x="747" y="1070"/><use href="#sgO" x="747" y="1083"/><use href="#sgO" x="747" y="1096"/>
<use href="#swF" x="747" y="1121"/><use href="#sgO" x="747" y="1134"/><use href="#sgO" x="747" y="1147"/>
<use href="#sgF" x="747" y="1170"/><use href="#sgO" x="747" y="1183"/><use href="#swO" x="747" y="1196"/>
<g class="r" font-size="21"><text x="763" y="1098">=88.9 MHz</text><text x="763" y="1146">=100.0 MHz</text><text x="763" y="1194">=102.5<tspan font-style="italic" font-size="16">50</tspan> MHz</text></g>
</g>
</svg>
</body></html>
